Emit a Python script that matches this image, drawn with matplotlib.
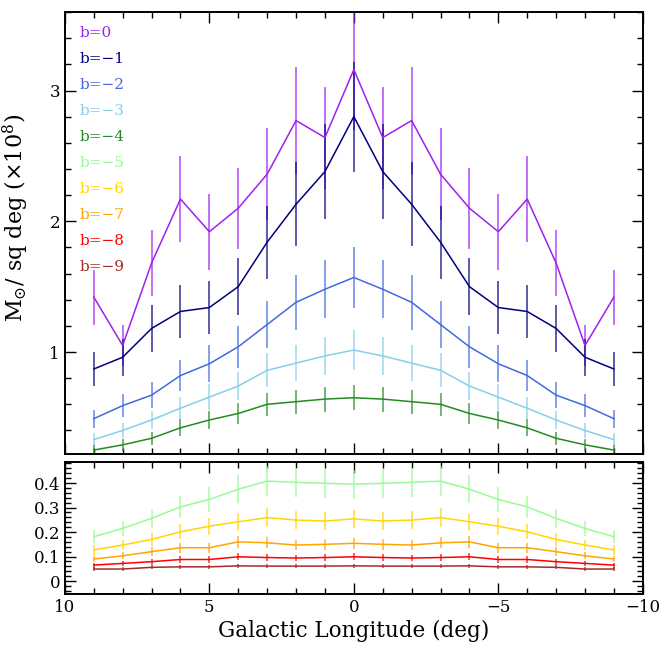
import matplotlib
matplotlib.use("Agg")
import matplotlib.pyplot as plt
from matplotlib.ticker import MultipleLocator

plt.rcParams["font.family"] = ["DejaVu Serif"]
plt.rcParams["mathtext.fontset"] = "dejavuserif"

longitude = [9, 8, 7, 6, 5, 4, 3, 2, 1, 0, -1, -2, -3, -4, -5, -6, -7, -8, -9]

labels = ["b=0", "b=\u22121", "b=\u22122", "b=\u22123", "b=\u22124",
          "b=\u22125", "b=\u22126", "b=\u22127", "b=\u22128", "b=\u22129"]
colors = ["#a020f0", "#000080", "#4169e1", "#87ceeb", "#228b22",
          "#98fb98", "#ffd700", "#ffa500", "#ff0000", "#a52a2a"]

# surface density per latitude strip (upper panel: b=0..-4, lower panel: b=-5..-9)
b0 = [1.42, 1.05, 1.68, 2.17, 1.92, 2.10, 2.36, 2.77, 2.64, 3.16, 2.64, 2.77, 2.36, 2.10, 1.92, 2.17, 1.68, 1.05, 1.42]
b1 = [0.87, 0.96, 1.18, 1.31, 1.34, 1.50, 1.84, 2.13, 2.38, 2.80, 2.38, 2.13, 1.84, 1.50, 1.34, 1.31, 1.18, 0.96, 0.87]
b2 = [0.49, 0.59, 0.67, 0.82, 0.91, 1.04, 1.21, 1.38, 1.48, 1.57, 1.48, 1.38, 1.21, 1.04, 0.91, 0.82, 0.67, 0.59, 0.49]
b3 = [0.33, 0.40, 0.48, 0.57, 0.655, 0.74, 0.86, 0.915, 0.97, 1.015, 0.97, 0.915, 0.86, 0.74, 0.655, 0.57, 0.48, 0.40, 0.33]
b4 = [0.25, 0.29, 0.34, 0.42, 0.48, 0.53, 0.60, 0.62, 0.64, 0.65, 0.64, 0.62, 0.60, 0.53, 0.48, 0.42, 0.34, 0.29, 0.25]
b5 = [0.181, 0.215, 0.256, 0.303, 0.333, 0.375, 0.408, 0.403, 0.399, 0.396, 0.399, 0.403, 0.408, 0.375, 0.333, 0.303, 0.256, 0.215, 0.181]
b6 = [0.127, 0.147, 0.170, 0.201, 0.224, 0.242, 0.259, 0.249, 0.245, 0.254, 0.245, 0.249, 0.259, 0.242, 0.224, 0.201, 0.170, 0.147, 0.127]
b7 = [0.090, 0.103, 0.120, 0.136, 0.136, 0.160, 0.156, 0.147, 0.150, 0.154, 0.150, 0.147, 0.156, 0.160, 0.136, 0.136, 0.120, 0.103, 0.090]
b8 = [0.065, 0.072, 0.079, 0.088, 0.088, 0.099, 0.096, 0.094, 0.096, 0.099, 0.096, 0.094, 0.096, 0.099, 0.088, 0.088, 0.079, 0.072, 0.065]
b9 = [0.049, 0.049, 0.056, 0.058, 0.058, 0.062, 0.061, 0.061, 0.061, 0.062, 0.061, 0.061, 0.061, 0.062, 0.058, 0.058, 0.056, 0.049, 0.049]

# error bar half-lengths
e0 = [0.21, 0.16, 0.25, 0.33, 0.29, 0.31, 0.35, 0.41, 0.39, 0.46, 0.39, 0.41, 0.35, 0.31, 0.29, 0.33, 0.25, 0.16, 0.21]
e1 = [0.13, 0.14, 0.18, 0.20, 0.20, 0.22, 0.28, 0.32, 0.36, 0.42, 0.36, 0.32, 0.28, 0.22, 0.20, 0.20, 0.18, 0.14, 0.13]
e2 = [0.07, 0.09, 0.10, 0.12, 0.14, 0.16, 0.18, 0.21, 0.22, 0.235, 0.22, 0.21, 0.18, 0.16, 0.14, 0.12, 0.10, 0.09, 0.07]
e3 = [0.05, 0.06, 0.07, 0.085, 0.10, 0.11, 0.13, 0.14, 0.145, 0.15, 0.145, 0.14, 0.13, 0.11, 0.10, 0.085, 0.07, 0.06, 0.05]
e4 = [0.04, 0.045, 0.05, 0.065, 0.07, 0.08, 0.09, 0.093, 0.096, 0.097, 0.096, 0.093, 0.09, 0.08, 0.07, 0.065, 0.05, 0.045, 0.04]
e5 = [0.027, 0.032, 0.038, 0.045, 0.05, 0.056, 0.061, 0.06, 0.06, 0.059, 0.06, 0.06, 0.061, 0.056, 0.05, 0.045, 0.038, 0.032, 0.027]
e6 = [0.019, 0.022, 0.026, 0.03, 0.034, 0.036, 0.039, 0.037, 0.037, 0.038, 0.037, 0.037, 0.039, 0.036, 0.034, 0.03, 0.026, 0.022, 0.019]
e7 = [0.0135, 0.015, 0.018, 0.02, 0.02, 0.024, 0.023, 0.022, 0.0225, 0.023, 0.0225, 0.022, 0.023, 0.024, 0.02, 0.02, 0.018, 0.015, 0.0135]
e8 = [0.01, 0.011, 0.012, 0.013, 0.013, 0.015, 0.014, 0.014, 0.014, 0.015, 0.014, 0.014, 0.014, 0.015, 0.013, 0.013, 0.012, 0.011, 0.01]
e9 = [0.007, 0.007, 0.008, 0.009, 0.009, 0.009, 0.009, 0.009, 0.009, 0.009, 0.009, 0.009, 0.009, 0.009, 0.009, 0.009, 0.008, 0.007, 0.007]

upper = [(b0, e0), (b1, e1), (b2, e2), (b3, e3), (b4, e4)]
lower = [(b5, e5), (b6, e6), (b7, e7), (b8, e8), (b9, e9)]


def style_axis(ax, ymajor, yminor):
    ax.xaxis.set_major_locator(MultipleLocator(5))
    ax.xaxis.set_minor_locator(MultipleLocator(1))
    ax.yaxis.set_major_locator(MultipleLocator(ymajor))
    ax.yaxis.set_minor_locator(MultipleLocator(yminor))
    ax.tick_params(which="both", direction="in", top=True, right=True, labelsize=12)
    ax.tick_params(which="major", length=8, width=1)
    ax.tick_params(which="minor", length=4.5, width=1)
    for sp in ax.spines.values():
        sp.set_linewidth(1.4)


def draw_series(ax, series, cols):
    for (vals, errs), color in zip(series, cols):
        cont = ax.errorbar(longitude, vals, yerr=errs, color=color, lw=1.1,
                           elinewidth=1.2, capsize=0)
        for coll in cont[2]:
            coll.set_alpha(0.75)


fig = plt.figure(figsize=(6.62, 6.48), dpi=100)
ax1 = fig.add_axes([0.098, 0.2994, 0.873, 0.682])
ax2 = fig.add_axes([0.098, 0.0833, 0.873, 0.2037])

draw_series(ax1, upper, colors[:5])
draw_series(ax2, lower, colors[5:])

for i, (lab, color) in enumerate(zip(labels, colors)):
    ax1.text(0.026, 0.953 - i * 0.0588, lab, color=color, fontsize=11,
             transform=ax1.transAxes, va="center", ha="left")

ax1.set_xlim(10, -10)
ax1.set_ylim(0.22, 3.6)
ax2.set_xlim(10, -10)
ax2.set_ylim(-0.053, 0.486)
style_axis(ax1, 1, 0.2)
style_axis(ax2, 0.1, 0.02)
ax1.tick_params(labelbottom=False)
ax2.set_yticks([0, 0.1, 0.2, 0.3, 0.4], ["0", "0.1", "0.2", "0.3", "0.4"])

ax2.set_xlabel("Galactic Longitude (deg)", fontsize=15.5, labelpad=3)
ax1.set_ylabel(r"M$_{\odot}$/ sq deg ($\times$10$^{8}$)", fontsize=16)
ax1.yaxis.set_label_coords(-0.058, 0.534)

fig.savefig("out.png", dpi=100)
